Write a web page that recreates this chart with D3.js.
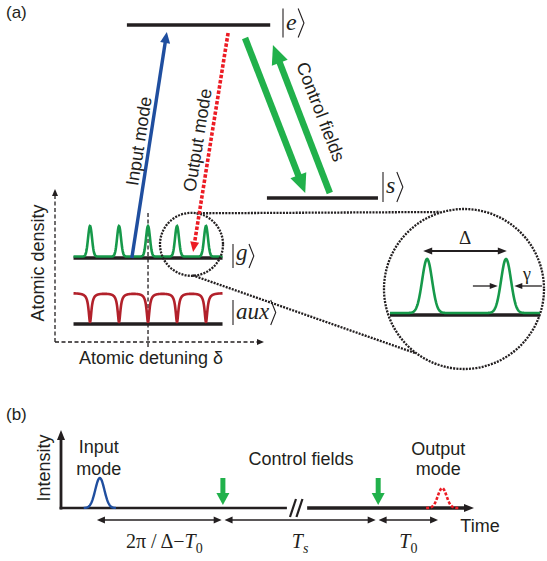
<!DOCTYPE html>
<html><head><meta charset="utf-8">
<script src="https://cdn.jsdelivr.net/npm/d3@7"></script>
<style>body{margin:0;background:#fff}svg{display:block}text{font-family:"Liberation Sans",Arial,sans-serif;fill:#231f20}</style>
</head><body><svg id="c" width="547" height="561"></svg>
<script>
// ---------------- DATA ----------------
// Panel (a): energy levels (diagram x units 0..100, energy 0..1)
const levelLabels = ["e", "s", "g", "aux"];
const levelEnergy = [1.0, 0.2575, 0.0, -0.283];
const levelStart  = [23.2, 48.8, 13.44, 13.44];
const levelEnd    = [49.4, 69.1, 40.68, 40.68];
// transitions
const transLabels = ["Input mode", "Output mode", "Control fields", ""];
const transFromX  = [24.1, 41.7, 44.8, 60.3];
const transFromE  = [0.0, 0.966, 0.944, 0.279];
const transToX    = [30.5, 35.3, 55.8, 49.9];
const transToE    = [0.970, 0.026, 0.279, 0.914];
// atomic density combs (detuning in units of Delta)
const combDetuning = [-2, -1, 0, 1, 2];
const combDensity  = [1, 1, 1, 1, 1];
const auxDipDepth  = [1, 1, 1, 1, 1];
const combWidth = 0.068, auxWidth = 0.06;
const zoomCircleAt = [1.5, 0.4];
// zoomed comb
const zoomDetuning = [0, 1];
const zoomDensity  = [1, 1];
const zoomWidth = 0.063;
const deltaSpan = [-0.05, 1.01];
const deltaLevel = 1.148;
const gammaHalf = 0.105;
// Panel (b): time axis units 0..100, intensity 0..1
const pulseTime      = [9.4, 92.3];
const pulseIntensity = [0.385, 0.256];
const pulseWidth     = [1.1, 1.05];
const controlTime    = [39.2, 76.8];
const controlTop     = 0.385, controlTip = 0.04;
const breakTime      = [54.7, 59.6];
const spanStart      = [8.7, 39.6, 76.9];
const spanEnd        = [38.9, 76.2, 91.3];

// ---------------- STYLE ----------------
const BLACK="#231f20", GREEN="#16994a", GREEN2="#21b14b", BLUE="#1f4e9f", RED="#ec1c24", DRED="#b2212b";
const svg=d3.select("#c");

function arrow(g,x0,y0,x1,y1,o){
  const dx=x1-x0,dy=y1-y0,L=Math.hypot(dx,dy),ux=dx/L,uy=dy/L,nx=-uy,ny=ux;
  const bx=x1-ux*o.hl,by=y1-uy*o.hl;
  g.append("line").attr("x1",x0).attr("y1",y0).attr("x2",bx+ux*1).attr("y2",by+uy*1)
   .attr("stroke",o.color).attr("stroke-width",o.w).attr("stroke-dasharray",o.dash||null);
  g.append("path").attr("d",`M${x1},${y1}L${bx+nx*o.hw/2},${by+ny*o.hw/2}L${bx-nx*o.hw/2},${by-ny*o.hw/2}Z`)
   .attr("fill",o.color);
}
function head(g,x1,y1,ux,uy,hl,hw,color){
  const nx=-uy,ny=ux,bx=x1-ux*hl,by=y1-uy*hl;
  g.append("path").attr("d",`M${x1},${y1}L${bx+nx*hw/2},${by+ny*hw/2}L${bx-nx*hw/2},${by-ny*hw/2}Z`).attr("fill",color);
}
function profile(x0,x1,centers,amps,sigma,n=400,shape="g"){
  return d3.range(n+1).map(i=>{const x=x0+(x1-x0)*i/n;let y=0;
    centers.forEach((c,k)=>{const u=(x-c)/sigma;
      y+=amps[k]*(shape==="l"?1/(1+u*u):Math.exp(-u*u/2));});return [x,Math.min(y,1)];});
}
function ket(g,x,yc,h,label,fs,bOff){
  g.append("path").attr("d",`M${x},${yc-h/2}V${yc+h/2}`).attr("stroke",BLACK).attr("stroke-width",1.1);
  const t=g.append("text").attr("x",x+3).attr("y",yc+bOff).style("font-family","'Liberation Serif',serif")
   .style("font-style","italic").style("font-size",fs+"px").text(label);
  const xr=x+3+t.node().getComputedTextLength()+1.5;
  g.append("path").attr("d",`M${xr},${yc-h/2}L${xr+h*0.2},${yc}L${xr},${yc+h/2}`)
   .attr("stroke",BLACK).attr("stroke-width",1.1).attr("fill","none");
}

// ---------------- PANEL (a) ----------------
const A=svg.append("g");
const ux=d3.scaleLinear().domain([0,100]).range([0,547]);
const ey=d3.scaleLinear().domain([0,1]).range([258,25]);
A.append("text").attr("x",6).attr("y",18).style("font-size","17px").text("(a)");

// density inset scales
const xd=d3.scaleLinear().domain([-2.57,2.57]).range([ux(levelStart[2]),ux(levelEnd[2])]);
const yg=d3.scaleLinear().domain([0,1]).range([ey(levelEnergy[2])-1.5,ey(levelEnergy[2])-32]);
const yr=d3.scaleLinear().domain([0,1]).range([ey(levelEnergy[3])-31,ey(levelEnergy[3])-2]);

// dashed axes
const axX0=55, axY0=342;
A.append("line").attr("x1",axX0).attr("y1",axY0).attr("x2",axX0).attr("y2",196)
 .attr("stroke",BLACK).attr("stroke-width",1.3).attr("stroke-dasharray","4,2.5");
head(A,axX0,189,0,-1,7,6,BLACK);
A.append("line").attr("x1",axX0).attr("y1",axY0).attr("x2",257).attr("y2",axY0)
 .attr("stroke",BLACK).attr("stroke-width",1.3).attr("stroke-dasharray","4,2.5");
head(A,264,axY0,1,0,7,6,BLACK);
A.append("line").attr("x1",xd(0)).attr("y1",213).attr("x2",xd(0)).attr("y2",347)
 .attr("stroke",BLACK).attr("stroke-width",1.3).attr("stroke-dasharray","4,2.5");

// levels
levelLabels.forEach((n,i)=>{
  A.append("line").attr("x1",ux(levelStart[i])).attr("x2",ux(levelEnd[i]))
   .attr("y1",ey(levelEnergy[i])).attr("y2",ey(levelEnergy[i]))
   .attr("stroke",BLACK).attr("stroke-width",3.6);
});
// combs
const lineG=d3.line().x(d=>xd(d[0])).y(d=>yg(d[1]));
A.append("path").attr("d",lineG(profile(-2.57,2.57,combDetuning,combDensity,combWidth)))
 .attr("fill","none").attr("stroke",GREEN).attr("stroke-width",2.6);
const lineR=d3.line().x(d=>xd(d[0])).y(d=>yr(d[1]));
A.append("path").attr("d",lineR(profile(-2.57,2.57,combDetuning,auxDipDepth,auxWidth,800,"l")))
 .attr("fill","none").attr("stroke",DRED).attr("stroke-width",2.6);

// kets
ket(A,283,23,29,"e",24,7);
ket(A,383,187,30,"s",24,6);
ket(A,233,256,24,"g",23,3.5);
ket(A,233,312.5,25,"aux",23,6.5);

// zoom circles & connectors
const zc=[xd(zoomCircleAt[0]),yg(zoomCircleAt[1])];
const BC=[464,289],BR=80;
const dot={"stroke":BLACK,"stroke-width":2.3,"stroke-dasharray":"2,1.2","fill":"none"};
const sty=(s)=>{Object.entries(dot).forEach(([k,v])=>s.attr(k,v));return s;};
sty(A.append("circle").attr("cx",zc[0]).attr("cy",zc[1]).attr("r",31.5));
sty(A.append("circle").attr("cx",BC[0]).attr("cy",BC[1]).attr("r",BR));
sty(A.append("line").attr("x1",zc[0]+5).attr("y1",zc[1]-31).attr("x2",BC[0]-24).attr("y2",BC[1]-77));
sty(A.append("line").attr("x1",zc[0]+1).attr("y1",zc[1]+31).attr("x2",BC[0]-49).attr("y2",BC[1]+64));

// transitions
const tr=i=>[ux(transFromX[i]),ey(transFromE[i]),ux(transToX[i]),ey(transToE[i])];
let p=tr(0); arrow(A,...p,{w:3.4,hl:11,hw:10,color:BLUE});
p=tr(1); arrow(A,...p,{w:3.6,hl:10,hw:9,color:RED,dash:"3.5,1.8"});
p=tr(2); arrow(A,...p,{w:6.5,hl:19,hw:17,color:GREEN2});
p=tr(3); arrow(A,...p,{w:6.5,hl:19,hw:17,color:GREEN2});

// rotated labels
function rot(x,y,ang,txt){A.append("text").attr("text-anchor","middle").attr("transform",`translate(${x},${y}) rotate(${ang})`).style("font-size","18px").text(txt);}
const angle=i=>{const q=tr(i);return Math.atan2(q[3]-q[1],q[2]-q[0])*180/Math.PI;};
rot(145,142,angle(0),transLabels[0]);
rot(203.5,141,angle(1)+180,transLabels[1]);
rot(315,114,angle(2),transLabels[2]);
rot(44,263,-90,"Atomic density");
A.append("text").attr("x",151).attr("y",364).attr("text-anchor","middle").style("font-size","18px").text("Atomic detuning δ");

// zoomed comb
const xz=d3.scaleLinear().domain([-0.47,1.43]).range([390,540]);
const yz=d3.scaleLinear().domain([0,1]).range([313,259]);
A.append("line").attr("x1",xz(-0.47)).attr("x2",xz(1.43)).attr("y1",315).attr("y2",315).attr("stroke",BLACK).attr("stroke-width",3.6);
A.append("path").attr("d",d3.line().x(d=>xz(d[0])).y(d=>yz(d[1]))(profile(-0.47,1.43,zoomDetuning,zoomDensity,zoomWidth)))
 .attr("fill","none").attr("stroke",GREEN).attr("stroke-width",2.6);
// Delta arrow
const dy=yz(deltaLevel);
A.append("line").attr("x1",xz(deltaSpan[0])+4).attr("x2",xz(deltaSpan[1])-4).attr("y1",dy).attr("y2",dy).attr("stroke",BLACK).attr("stroke-width",1.8);
head(A,xz(deltaSpan[0]),dy,-1,0,9,7,BLACK);head(A,xz(deltaSpan[1]),dy,1,0,9,7,BLACK);
A.append("text").attr("x",(xz(deltaSpan[0])+xz(deltaSpan[1]))/2).attr("y",dy-7).attr("text-anchor","middle")
 .style("font-family","'Liberation Serif',serif").style("font-size","19px").text("Δ");
// gamma arrows
const gy=yz(0.5);
arrow(A,xz(zoomDetuning[1]-0.42),gy,xz(zoomDetuning[1]-gammaHalf),gy,{w:1.3,hl:8,hw:6,color:BLACK});
arrow(A,xz(zoomDetuning[1]+0.455),gy,xz(zoomDetuning[1]+gammaHalf),gy,{w:1.3,hl:8,hw:6,color:BLACK});
A.append("text").attr("x",527).attr("y",gy-6).attr("text-anchor","middle")
 .style("font-family","'Liberation Serif',serif").style("font-size","18px").text("γ");

// ---------------- PANEL (b) ----------------
const B=svg.append("g");
const xt=d3.scaleLinear().domain([0,100]).range([61,474]);
const yt=d3.scaleLinear().domain([0,1]).range([508,430]);
B.append("text").attr("x",6).attr("y",420).style("font-size","17px").text("(b)");
// axes
B.append("line").attr("x1",xt(0)).attr("x2",xt(0)).attr("y1",yt(0)+1.5).attr("y2",yt(1)+8).attr("stroke",BLACK).attr("stroke-width",2.8);
head(B,xt(0),yt(1),0,-1,10,8,BLACK);
B.append("line").attr("x1",xt(0)-1.4).attr("x2",xt(breakTime[0])).attr("y1",yt(0)).attr("y2",yt(0)).attr("stroke",BLACK).attr("stroke-width",2.6);
B.append("line").attr("x1",xt(breakTime[1])).attr("x2",xt(100)-8).attr("y1",yt(0)).attr("y2",yt(0)).attr("stroke",BLACK).attr("stroke-width",3.4);
head(B,xt(100),yt(0),1,0,10,8,BLACK);
[0.3,0.62].forEach(f=>{const xm=xt(breakTime[0]+(breakTime[1]-breakTime[0])*f);
  B.append("line").attr("x1",xm-3).attr("x2",xm+3).attr("y1",yt(0)+9).attr("y2",yt(0)-9).attr("stroke",BLACK).attr("stroke-width",2.2);});
// pulses
const pl=d3.line().x(d=>xt(d[0])).y(d=>yt(d[1]));
B.append("path").attr("d",pl(profile(pulseTime[0]-3.9,pulseTime[0]+3.9,[pulseTime[0]],[pulseIntensity[0]],pulseWidth[0],80)))
 .attr("fill","none").attr("stroke",BLUE).attr("stroke-width",2.4);
B.append("path").attr("d",pl(profile(pulseTime[1]-3.9,pulseTime[1]+3.9,[pulseTime[1]],[pulseIntensity[1]],pulseWidth[1],80)))
 .attr("fill","none").attr("stroke",RED).attr("stroke-width",2.6).attr("stroke-dasharray","3,1.8");
// control arrows
controlTime.forEach(t=>arrow(B,xt(t),yt(controlTop),xt(t),yt(controlTip),{w:5,hl:12,hw:13,color:GREEN2}));
// spans
spanStart.forEach((s,i)=>{
  const x0=xt(s),x1=xt(spanEnd[i]),y=520;
  B.append("line").attr("x1",x0+5).attr("x2",x1-5).attr("y1",y).attr("y2",y).attr("stroke",BLACK).attr("stroke-width",1.6);
  head(B,x0,y,-1,0,8,7,BLACK);head(B,x1,y,1,0,8,7,BLACK);
});
// span labels
const serif="'Liberation Serif',serif";
function mathLabel(x,parts){
  const t=B.append("text").attr("x",x).attr("y",548).attr("text-anchor","middle").style("font-family",serif).style("font-size","20px");
  parts.forEach(q=>{const s=t.append("tspan").text(q[0]);
    if(q[1]==="i")s.style("font-style","italic");
    if(q[1]==="sub")s.style("font-size","14px").attr("dy",5);
    if(q[1]==="subi")s.style("font-size","14px").style("font-style","italic").attr("dy",5);});
}
mathLabel((xt(spanStart[0])+xt(spanEnd[0]))/2+5,[["2π / Δ−",""],["T","i"],["0","sub"]]);
mathLabel((xt(spanStart[1])+xt(spanEnd[1]))/2,[["T","i"],["s","subi"]]);
mathLabel((xt(spanStart[2])+xt(spanEnd[2]))/2,[["T","i"],["0","sub"]]);
// texts
const t18=(x,y,s,anchor="middle")=>B.append("text").attr("x",x).attr("y",y).attr("text-anchor",anchor).style("font-size","18px").text(s);
t18(xt(pulseTime[0])-1,453,"Input");t18(xt(pulseTime[0])-1,475,"mode");
t18(301,465,"Control fields");
t18(xt(pulseTime[1])-4,455,"Output");t18(xt(pulseTime[1])-4,475,"mode");
t18(480,532,"Time");
B.append("text").attr("text-anchor","middle").attr("transform","translate(50,468) rotate(-90)").style("font-size","18px").text("Intensity");
</script></body></html>
